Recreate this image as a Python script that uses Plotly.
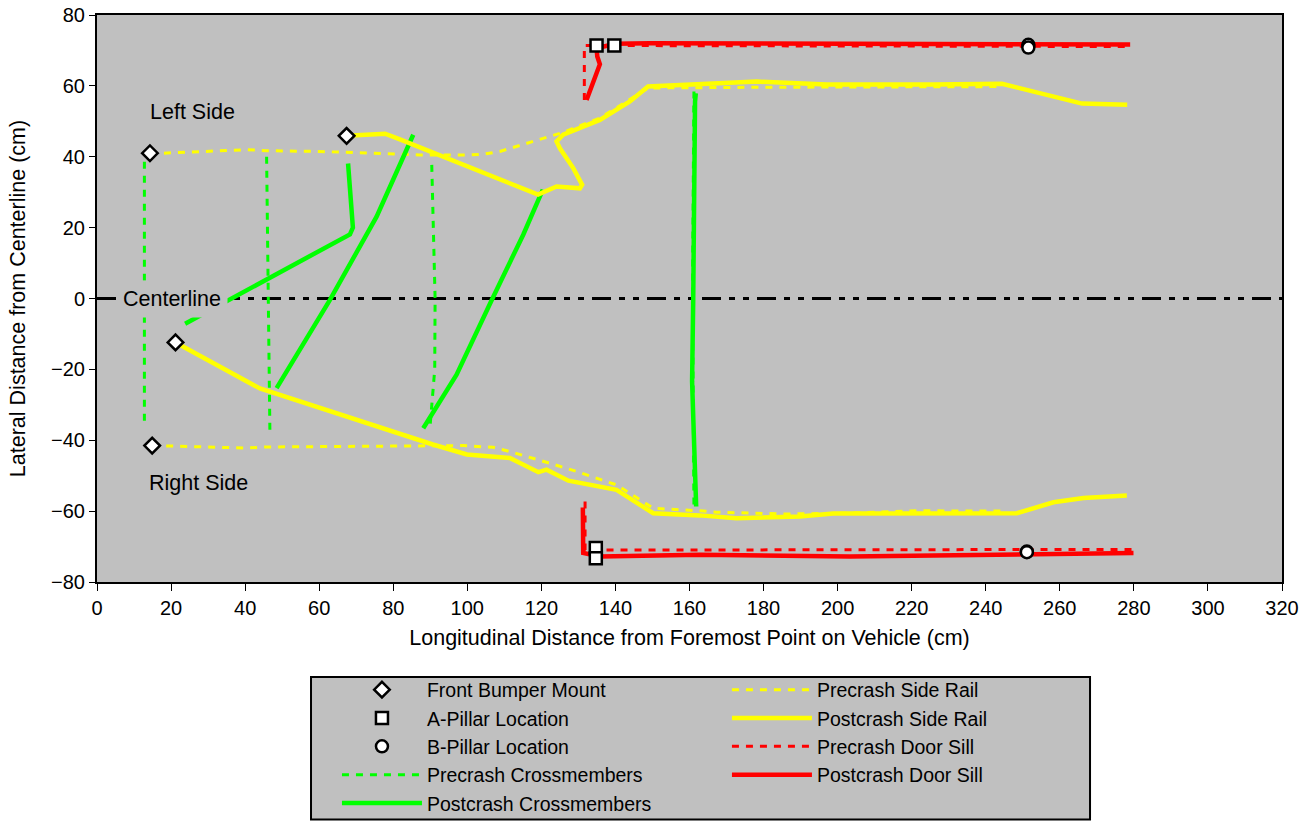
import plotly.graph_objects as go

# ---------------- data ----------------
bumper_x = [14.3, 67.4, 21.2, 14.9]
bumper_y = [41.0, 45.9, -12.4, -41.5]

apillar_x = [134.9, 139.7, 134.7, 134.7]
apillar_y = [71.4, 71.4, -70.4, -73.3]

bpillar_x = [251.5, 251.5, 251.1, 251.1]
bpillar_y = [71.6, 70.8, -71.4, -71.6]

pre_cross_x = [12.8, 12.8, None, 45.8, 46.7, None, 90.4, 91.3, 91.2, 89.9, None, 161.2, 160.8, 161.2]
pre_cross_y = [38.6, -34.7, None, 40.0, -38.5, None, 37.7, 0.0, -20.0, -36.6, None, 58.4, 0.0, -58.5]

post_cross_x = [23.8, 68.3, 69.1, 67.8, None,
                48.5, 62.9, 75.5, 85.4, None,
                88.1, 97.1, 106.6, 115.1, 120.4, None,
                161.7, 161.5, 161.0, 160.7, 161.8]
post_cross_y = [-7.1, 18.1, 20.0, 38.1, None,
                -25.3, -0.4, 23.1, 46.2, None,
                -36.6, -21.5, -0.4, 18.0, 30.7, None,
                57.9, 55.6, -0.8, -23.4, -58.7]

pre_rail_x = [14.3, 17.8, 40.4, 45.8, 60.0, 78.2, 87.2, 99.8, 104.3, 108.8, 116.0, 123.2,
              125.9, 135.8, 143.9, 148.8, 178.0, 200.0, 225.0, 244.4, None,
              14.9, 18.8, 40.4, 45.8, 72.8, 98.8, 107.0, 111.5, 122.3, 129.5, 140.3,
              150.2, 162.8, 167.3, 185.3, 203.3, 221.4, 245.0]
pre_rail_y = [41.0, 41.0, 42.0, 41.7, 41.5, 40.8, 40.5, 40.5, 40.7, 41.5, 43.8, 46.2,
              46.9, 50.9, 56.2, 59.4, 59.6, 59.6, 59.8, 59.8, None,
              -41.5, -41.6, -42.2, -41.9, -41.7, -41.5, -42.0, -43.2, -46.5, -48.8, -52.6,
              -59.2, -59.9, -60.3, -60.8, -60.6, -59.9, -60.0]

post_rail_x = [67.4, 77.8, 81.8, 119.1, 124.1, 130.4, 131.0, 128.6, 125.0, 124.1, 125.9,
               135.8, 143.9, 148.8, 178.2, 197.1, 225.8, 244.4, 266.0, 278.2, None,
               21.2, 44.0, 90.7, 99.9, 111.5, 119.2, 121.4, 127.3, 140.3, 150.2, 162.8,
               172.7, 189.8, 198.8, 248.4, 258.3, 266.4, 278.1]
post_rail_y = [45.9, 46.5, 44.9, 29.3, 31.6, 31.1, 32.1, 36.8, 42.4, 44.3, 46.2,
               50.4, 55.6, 59.8, 61.2, 60.4, 60.4, 60.6, 55.0, 54.7, None,
               -12.4, -25.4, -41.2, -44.0, -45.0, -49.0, -48.3, -51.4, -54.0, -60.6, -61.2,
               -62.0, -61.5, -60.7, -60.6, -57.5, -56.3, -55.6]

pre_sill_x = [131.6, 131.6, 279.0, None, 131.8, 131.8, 279.5]
pre_sill_y = [56.0, 71.4, 71.1, None, -57.3, -71.0, -70.8]

post_sill_x = [132.2, 135.8, 135.1, 134.9, 139.9, 149.3, 279.0, None,
               131.2, 131.3, 135.8, 149.3, 162.8, 203.3, 279.9]
post_sill_y = [56.0, 66.1, 68.3, 70.6, 71.9, 72.0, 71.7, None,
               -59.0, -71.8, -72.8, -72.5, -72.3, -72.8, -71.8]

centerline_x = [0, 320]
centerline_y = [0, 0]

x_ticks = list(range(0, 321, 20))
y_ticks = list(range(-80, 81, 20))

# ---------------- style ----------------
FONT = "Liberation Sans, Arial, sans-serif"
YELLOW = "#FFFF00"
GREEN = "#00FF00"
RED = "#FF0000"
GREY = "#C0C0C0"
DOT = "7px,7px"
W_POST = 4.5
W_PRE = 3

fig = go.Figure()

# centerline
fig.add_trace(go.Scatter(x=centerline_x, y=centerline_y, mode="lines",
                         line=dict(color="black", width=3, dash="19px,8px,6px,8px,6px,8px"),
                         showlegend=False, hoverinfo="skip"))

# precrash lines
fig.add_trace(go.Scatter(x=pre_cross_x, y=pre_cross_y, mode="lines", name="Precrash Crossmembers",
                         line=dict(color=GREEN, width=W_PRE, dash=DOT), legend="legend", legendrank=4))
fig.add_trace(go.Scatter(x=pre_rail_x, y=pre_rail_y, mode="lines", name="Precrash Side Rail",
                         line=dict(color=YELLOW, width=W_PRE, dash=DOT), legend="legend2", legendrank=1))
fig.add_trace(go.Scatter(x=pre_sill_x, y=pre_sill_y, mode="lines", name="Precrash Door Sill",
                         line=dict(color=RED, width=W_PRE, dash=DOT), legend="legend2", legendrank=3))

# postcrash lines
fig.add_trace(go.Scatter(x=post_cross_x, y=post_cross_y, mode="lines", name="Postcrash Crossmembers",
                         line=dict(color=GREEN, width=W_POST), legend="legend", legendrank=5))
fig.add_trace(go.Scatter(x=post_rail_x, y=post_rail_y, mode="lines", name="Postcrash Side Rail",
                         line=dict(color=YELLOW, width=W_POST), legend="legend2", legendrank=2))
fig.add_trace(go.Scatter(x=post_sill_x, y=post_sill_y, mode="lines", name="Postcrash Door Sill",
                         line=dict(color=RED, width=W_POST), legend="legend2", legendrank=4))

# markers
fig.add_trace(go.Scatter(x=bumper_x, y=bumper_y, mode="markers", name="Front Bumper Mount",
                         marker=dict(symbol="diamond", size=12, color="white",
                                     line=dict(color="black", width=2.5)),
                         legend="legend", legendrank=1))
fig.add_trace(go.Scatter(x=apillar_x, y=apillar_y, mode="markers", name="A-Pillar Location",
                         marker=dict(symbol="square", size=12, color="white",
                                     line=dict(color="black", width=2.5)),
                         legend="legend", legendrank=2))
fig.add_trace(go.Scatter(x=bpillar_x, y=bpillar_y, mode="markers", name="B-Pillar Location",
                         marker=dict(symbol="circle", size=12, color="white",
                                     line=dict(color="black", width=2.5)),
                         legend="legend", legendrank=3))

# text labels
fig.add_annotation(x=25.7, y=52.7, text="Left Side", showarrow=False,
                   font=dict(family=FONT, size=21.5, color="black"))
fig.add_annotation(x=27.5, y=-52.2, text="Right Side", showarrow=False,
                   font=dict(family=FONT, size=21.5, color="black"))
fig.add_annotation(x=20.3, y=0, text="Centerline", showarrow=False, bgcolor=GREY, borderpad=6,
                   font=dict(family=FONT, size=21.5, color="black"))

# legend frame
fig.add_shape(type="rect", xref="paper", yref="paper",
              x0=0.1806, x1=0.838, y0=-0.4189, y1=-0.1675,
              line=dict(color="black", width=2), fillcolor=GREY, layer="below")

legend_common = dict(bgcolor="rgba(0,0,0,0)", borderwidth=0, itemwidth=80,
                     font=dict(family=FONT, size=19.5, color="black"),
                     xanchor="left", yanchor="top", traceorder="normal", itemclick=False)

fig.update_layout(
    width=1313, height=821,
    margin=dict(l=97, r=31, t=15, b=239, autoexpand=False),
    paper_bgcolor="white",
    plot_bgcolor=GREY,
    font=dict(family=FONT, size=20, color="black"),
    legend=dict(x=0.2025, y=-0.156, **legend_common),
    legend2=dict(x=0.5316, y=-0.156, **legend_common),
    xaxis=dict(range=[0, 320], tickvals=x_ticks, showgrid=False, zeroline=False,
               showline=True, linecolor="black", linewidth=2, mirror=True,
               ticks="outside", ticklen=7, tickcolor="black", tickwidth=1,
               tickfont=dict(family=FONT, size=20),
               title=dict(text="Longitudinal Distance from Foremost Point on Vehicle (cm)",
                          font=dict(family=FONT, size=21.5), standoff=12)),
    yaxis=dict(range=[-80, 80], tickvals=y_ticks, showgrid=False, zeroline=False,
               showline=True, linecolor="black", linewidth=2, mirror=True,
               ticks="outside", ticklen=6, tickcolor="black", tickwidth=1,
               tickfont=dict(family=FONT, size=20),
               title=dict(text="Lateral Distance from Centerline (cm)",
                          font=dict(family=FONT, size=21.5), standoff=20)),
)

fig.write_html("out.html", config={"displayModeBar": False},
               post_script="document.body.style.margin='0px';")
